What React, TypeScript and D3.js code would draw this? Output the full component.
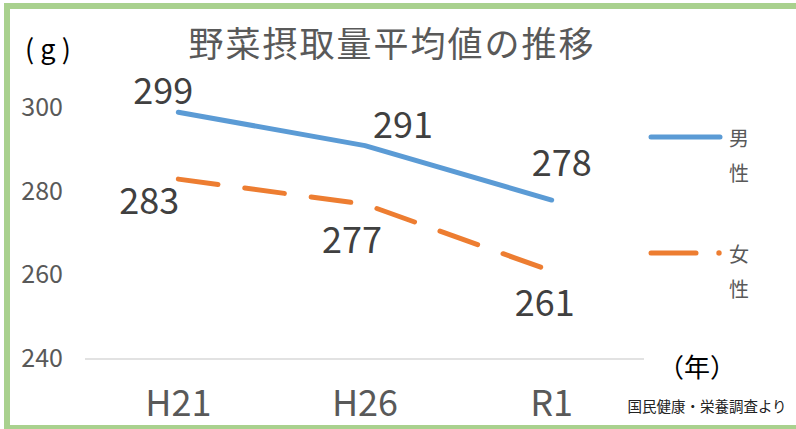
import React from "react";
import * as d3 from "d3";

const categories = ["H21", "H26", "R1"];
const maleValues = [299, 291, 278];
const femaleValues = [283, 277, 261];
const yTicks = [240, 260, 280, 300];
const seriesNames = ["男性", "女性"];
const title = "野菜摂取量平均値の推移";
const source = "国民健康・栄養調査より";

// label offsets (dx, dy from point) – styling only
const maleLabelOffsets = [[-15, -8], [38, -8], [10, -24]];
const femaleLabelOffsets = [[-29, 35], [-13, 49], [-7, 45]];

const W = 796;
const H = 429;
const FONT = "'Noto Sans CJK JP', 'Noto Sans', sans-serif";
const BLUE = "#5b9bd5";
const ORANGE = "#ed7d31";
const GRAY = "#595959";
const LABEL = "#404040";

export default function App() {
  const x = d3.scalePoint<string>().domain(categories).range([85, 645]).padding(0.5);
  const y = d3.scaleLinear().domain([240, 300]).range([359, 108]);
  const line = d3
    .line<number>()
    .x((_, i) => x(categories[i]) as number)
    .y((d) => y(d));

  return (
    <svg
      width={W}
      height={H}
      style={{ position: "absolute", left: 0, top: 0, background: "#fff" }}
      fontFamily={FONT}
    >
      <rect x={0} y={0} width={W} height={H} fill="#fff" />
      <rect x={7} y={6} width={W} height={422} fill="none" stroke="#a9d18e" strokeWidth={6} />

      <text x={392} y={41} textAnchor="middle" dominantBaseline="central" fontSize={35} letterSpacing={2} fill={GRAY}>
        {title}
      </text>

      <text x={51} y={47} textAnchor="middle" dominantBaseline="central" fontSize={27} letterSpacing={6} fill="#000">
        (g)
      </text>

      {yTicks.map((t) => (
        <text key={t} x={63} y={y(t) - 3} textAnchor="end" dominantBaseline="central" fontSize={25} fill={GRAY}>
          {t}
        </text>
      ))}

      <line x1={85} x2={644} y1={y(240)} y2={y(240)} stroke="#d9d9d9" strokeWidth={1.5} />

      {categories.map((c) => (
        <text key={c} x={x(c)} y={400} textAnchor="middle" dominantBaseline="central" fontSize={36} fill={GRAY}>
          {c}
        </text>
      ))}

      <text x={697} y={365} textAnchor="middle" dominantBaseline="central" fontSize={26} fill="#000">
        （年）
      </text>
      <text x={707} y={405} textAnchor="middle" dominantBaseline="central" fontSize={14.5} fill="#222">
        {source}
      </text>

      <path d={line(maleValues) || ""} fill="none" stroke={BLUE} strokeWidth={5} strokeLinecap="round" strokeLinejoin="round" />
      <path
        d={line(femaleValues) || ""}
        fill="none"
        stroke={ORANGE}
        strokeWidth={5}
        strokeLinecap="round"
        strokeDasharray="40 27"
      />

      {maleValues.map((v, i) => (
        <text
          key={"m" + i}
          x={(x(categories[i]) as number) + maleLabelOffsets[i][0]}
          y={y(v) + maleLabelOffsets[i][1]}
          textAnchor="middle"
          fontSize={36}
          fill={LABEL}
        >
          {v}
        </text>
      ))}
      {femaleValues.map((v, i) => (
        <text
          key={"f" + i}
          x={(x(categories[i]) as number) + femaleLabelOffsets[i][0]}
          y={y(v) + femaleLabelOffsets[i][1]}
          textAnchor="middle"
          fontSize={36}
          fill={LABEL}
        >
          {v}
        </text>
      ))}

      {/* legend */}
      <line x1={651} x2={720} y1={137} y2={137} stroke={BLUE} strokeWidth={5} strokeLinecap="round" />
      <text x={739} fontSize={20} fill={GRAY} textAnchor="middle">
        <tspan x={739} y={137} dominantBaseline="central">{seriesNames[0][0]}</tspan>
        <tspan x={739} y={172} dominantBaseline="central">{seriesNames[0][1]}</tspan>
      </text>
      <line x1={651} x2={696} y1={253} y2={253} stroke={ORANGE} strokeWidth={5} strokeLinecap="round" />
      <circle cx={719} cy={253} r={2.7} fill={ORANGE} />
      <text x={739} fontSize={20} fill={GRAY} textAnchor="middle">
        <tspan x={739} y={253} dominantBaseline="central">{seriesNames[1][0]}</tspan>
        <tspan x={739} y={288} dominantBaseline="central">{seriesNames[1][1]}</tspan>
      </text>
    </svg>
  );
}
